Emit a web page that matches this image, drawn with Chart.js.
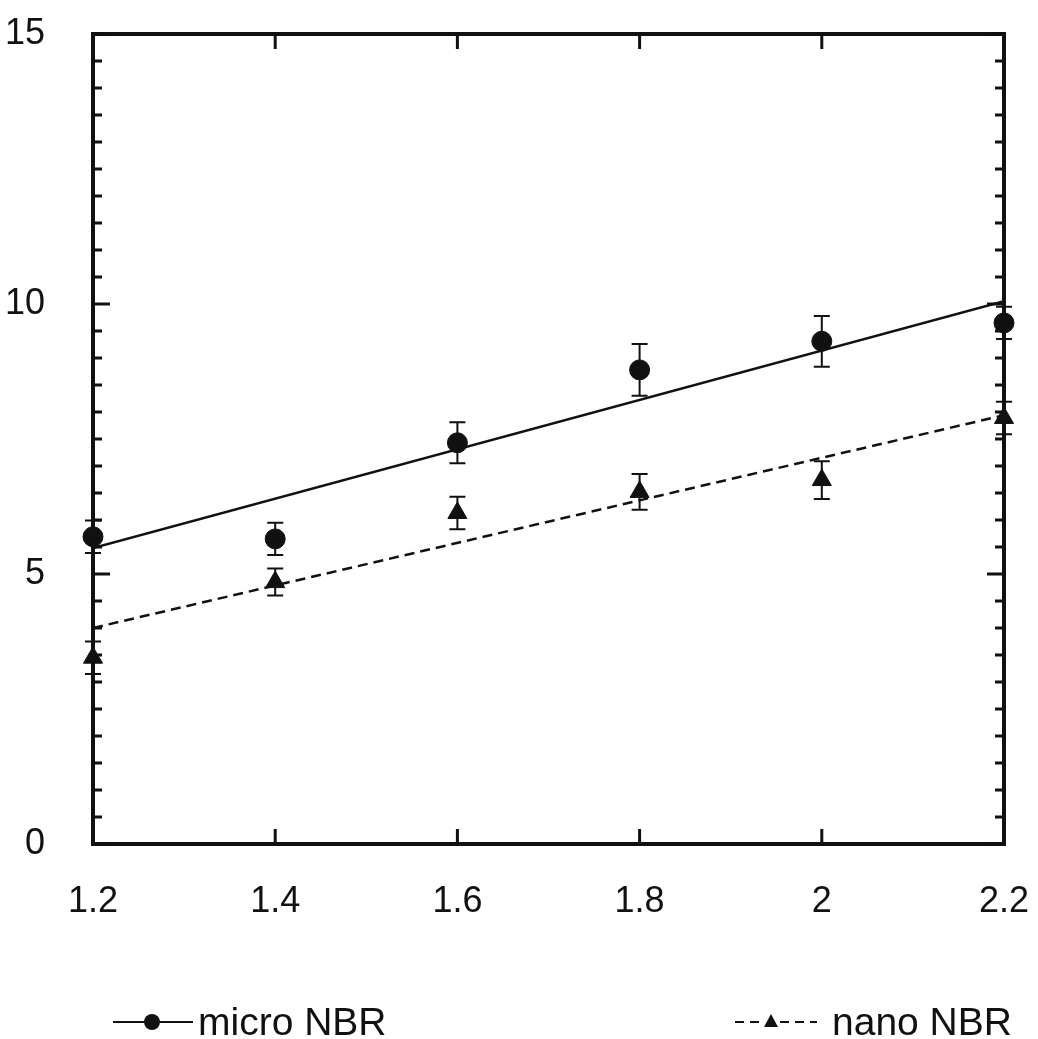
<!DOCTYPE html>
<html>
<head>
<meta charset="utf-8">
<script src="https://cdn.jsdelivr.net/npm/chart.js@4.4.0/dist/chart.umd.min.js"></script>
<style>
  html, body { margin: 0; padding: 0; background: #fff; }
</style>
</head>
<body>
<canvas id="chart" width="1038" height="1039"></canvas>
<script>
// values
const xValues = [1.2, 1.4, 1.6, 1.8, 2.0, 2.2];
const microValues = [5.69, 5.65, 7.43, 8.78, 9.31, 9.65];
const microErrors = [0.3, 0.3, 0.38, 0.48, 0.47, 0.3];
const nanoValues = [3.45, 4.85, 6.13, 6.52, 6.74, 7.89];
const nanoErrors = [0.3, 0.25, 0.3, 0.33, 0.35, 0.3];
const fitX = [1.2, 2.2];
const microFit = [5.48, 10.05];
const nanoFit = [4.0, 7.94];
const xTicks = [1.2, 1.4, 1.6, 1.8, 2.0, 2.2];
const xTickLabels = ['1.2', '1.4', '1.6', '1.8', '2', '2.2'];
const yTicks = [0, 5, 10, 15];
const yMinorStep = 0.5;
const seriesNames = ['micro NBR', 'nano NBR'];

const ink = '#111';
const font = '"Liberation Sans", Arial, sans-serif';

function points(xs, ys) {
  return xs.map((x, i) => ({ x: x, y: ys[i] }));
}

// axis box with inward ticks, plus error bars
const frame = {
  id: 'frame',
  beforeDatasetsDraw(chart) {
    const { ctx, chartArea: a, scales: { x, y } } = chart;
    ctx.save();
    ctx.strokeStyle = ink;
    ctx.lineWidth = 4;
    ctx.strokeRect(a.left, a.top, a.right - a.left, a.bottom - a.top);
    ctx.lineWidth = 3;
    ctx.beginPath();
    for (let v = y.min; v <= y.max; v += yMinorStep) {
      const py = y.getPixelForValue(v);
      const len = yTicks.includes(v) ? 17 : 9;
      ctx.moveTo(a.left, py); ctx.lineTo(a.left + len, py);
      ctx.moveTo(a.right, py); ctx.lineTo(a.right - len, py);
    }
    xTicks.slice(1, -1).forEach(v => {
      const px = x.getPixelForValue(v);
      ctx.moveTo(px, a.bottom); ctx.lineTo(px, a.bottom - 15);
      ctx.moveTo(px, a.top); ctx.lineTo(px, a.top + 15);
    });
    ctx.stroke();

    // error bars
    ctx.lineWidth = 2;
    ctx.beginPath();
    [[microValues, microErrors], [nanoValues, nanoErrors]].forEach(([vals, errs]) => {
      xValues.forEach((xv, i) => {
        const px = x.getPixelForValue(xv);
        const top = y.getPixelForValue(vals[i] + errs[i]);
        const bot = y.getPixelForValue(vals[i] - errs[i]);
        ctx.moveTo(px, top); ctx.lineTo(px, bot);
        ctx.moveTo(px - 8, top); ctx.lineTo(px + 8, top);
        ctx.moveTo(px - 8, bot); ctx.lineTo(px + 8, bot);
      });
    });
    ctx.stroke();
    ctx.restore();
  }
};

// legend split to both sides under the chart
const splitLegend = {
  id: 'splitLegend',
  afterDraw(chart) {
    const ctx = chart.ctx;
    const ly = 1022;
    ctx.save();
    ctx.strokeStyle = ink;
    ctx.fillStyle = ink;
    ctx.lineWidth = 2;

    // micro: solid line with dot
    ctx.beginPath();
    ctx.moveTo(113, ly); ctx.lineTo(193, ly);
    ctx.stroke();
    ctx.beginPath();
    ctx.arc(152, ly, 8, 0, Math.PI * 2);
    ctx.fill();

    // nano: dashed line with triangle
    ctx.setLineDash([9, 6]);
    ctx.beginPath();
    ctx.moveTo(735, ly); ctx.lineTo(817, ly);
    ctx.stroke();
    ctx.setLineDash([]);
    ctx.fillStyle = '#fff';
    ctx.fillRect(762, ly - 9, 18, 16);
    ctx.fillStyle = ink;
    ctx.beginPath();
    ctx.moveTo(771, ly - 8); ctx.lineTo(778, ly + 5); ctx.lineTo(764, ly + 5);
    ctx.closePath();
    ctx.fill();

    ctx.font = '39px ' + font;
    ctx.textBaseline = 'alphabetic';
    ctx.textAlign = 'left';
    ctx.fillText(seriesNames[0], 198, 1035);
    ctx.fillText(seriesNames[1], 832, 1035);
    ctx.restore();
  }
};

new Chart(document.getElementById('chart'), {
  type: 'scatter',
  data: {
    datasets: [
      {
        label: seriesNames[0],
        data: points(xValues, microValues),
        pointStyle: 'circle',
        pointRadius: 10,
        backgroundColor: ink,
        borderColor: ink,
        showLine: false,
        clip: false
      },
      {
        label: seriesNames[1],
        data: points(xValues, nanoValues),
        pointStyle: 'triangle',
        pointRadius: 11,
        backgroundColor: ink,
        borderColor: ink,
        showLine: false,
        clip: false
      },
      {
        label: 'micro fit',
        data: points(fitX, microFit),
        showLine: true,
        pointRadius: 0,
        borderColor: ink,
        borderWidth: 2.5
      },
      {
        label: 'nano fit',
        data: points(fitX, nanoFit),
        showLine: true,
        pointRadius: 0,
        borderColor: ink,
        borderWidth: 2.5,
        borderDash: [10, 6]
      }
    ]
  },
  options: {
    responsive: false,
    animation: false,
    layout: { padding: { top: 34, right: 34, left: 0, bottom: 0 } },
    plugins: {
      legend: { display: false },
      tooltip: { enabled: false }
    },
    scales: {
      x: {
        type: 'linear',
        min: 1.2,
        max: 2.2,
        afterBuildTicks: s => { s.ticks = xTicks.map(v => ({ value: v })); },
        afterFit: s => { s.height = 195; s.paddingLeft = 0; s.paddingRight = 0; },
        grid: { display: false },
        border: { display: false },
        ticks: {
          callback: (v, i) => xTickLabels[i],
          font: { family: font, size: 36 },
          color: ink,
          padding: 28,
          maxRotation: 0,
          autoSkip: false
        }
      },
      y: {
        min: 0,
        max: 15,
        afterBuildTicks: s => { s.ticks = yTicks.map(v => ({ value: v })); },
        afterFit: s => { s.width = 93; s.paddingTop = 0; s.paddingBottom = 0; },
        grid: { display: false },
        border: { display: false },
        ticks: {
          callback: v => String(v),
          font: { family: font, size: 36 },
          color: ink,
          padding: 40
        }
      }
    }
  },
  plugins: [frame, splitLegend]
});
</script>
</body>
</html>
